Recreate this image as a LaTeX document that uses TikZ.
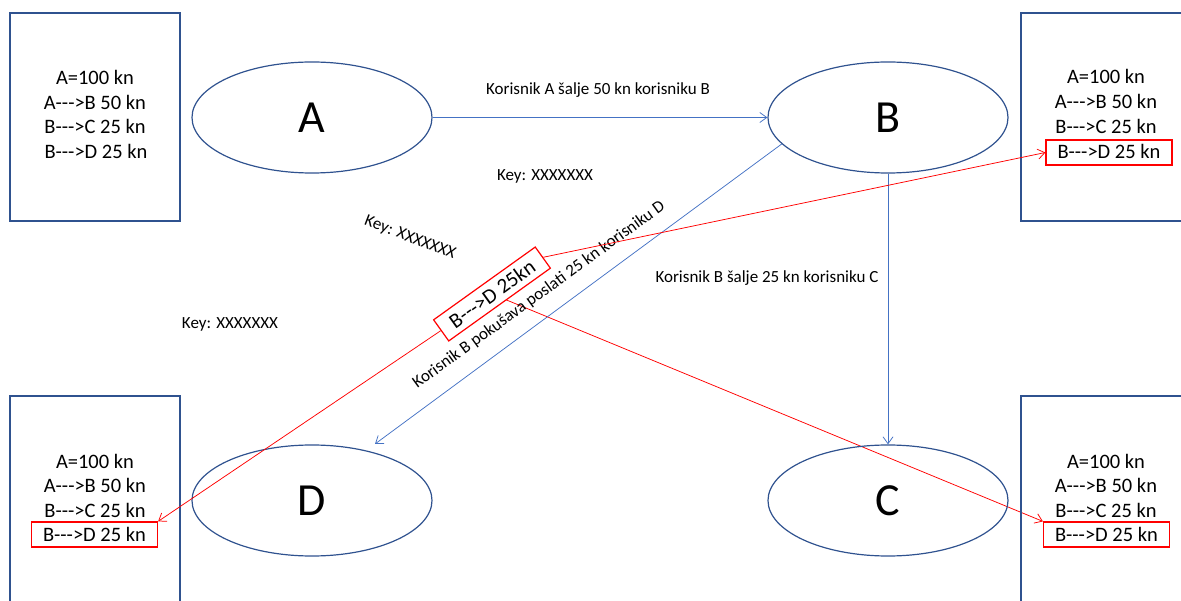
\documentclass[tikz,border=0pt]{standalone}
\usepackage{fontspec}
\setmainfont{Carlito}[Ligatures=TeXOff]
\usetikzlibrary{shapes.geometric,arrows.meta,calc}
\definecolor{boxblue}{HTML}{2F528F}
\definecolor{arrblue}{HTML}{4472C4}
\definecolor{myred}{HTML}{FF0000}
\pgfdeclarelayer{bg}
\pgfsetlayers{bg,main}
\begin{document}
\begin{tikzpicture}[x=1pt,y=-1pt,
  outer/.style={draw=boxblue, line width=1.2pt, rectangle, inner sep=0pt},
  ledger/.style={font=\fontsize{20.5}{24}\selectfont, anchor=base, inner sep=0pt},
  hl/.style={ledger, draw=myred, line width=1.2pt, minimum width=126pt, text height=13pt, text depth=0pt, inner ysep=6pt},
  user/.style={ellipse, draw=boxblue, line width=1.2pt, minimum width=240pt, minimum height=111pt, inner sep=0pt, font=\fontsize{46}{50}\selectfont},
  flow/.style={draw=arrblue, line width=0.75pt, -{Straight Barb[length=7pt,width=10pt]}},
  fake/.style={draw=myred, line width=0.75pt, -{Straight Barb[length=7pt,width=10pt]}},
  lbl/.style={font=\fontsize{17}{20}\selectfont, inner sep=0pt}]
\useasboundingbox (0,0) rectangle (1181,601);
\clip (0,0) rectangle (1181,601);
% outer ledger boxes
\node[outer, minimum width=170pt, minimum height=208pt] (TL) at (95,117) {};
\node[outer, minimum width=170pt, minimum height=208pt] (TR) at (1106,117) {};
\node[outer, minimum width=170pt, minimum height=208pt] (BL) at (95,500) {};
\node[outer, minimum width=170pt, minimum height=208pt] (BR) at (1106,500) {};
% top-left ledger
\node[ledger] (tl1) at (95,85) {A=100 kn};
\node[ledger] (tl2) at (95,110) {A--->B 50 kn};
\node[ledger] (tl3) at (95,134) {B--->C 25 kn};
\node[ledger] (tl4) at (96,159) {B--->D 25 kn};
% top-right ledger
\node[ledger] (tr1) at (1106,84) {A=100 kn};
\node[ledger] (tr2) at (1106,109) {A--->B 50 kn};
\node[ledger] (tr3) at (1106,133.5) {B--->C 25 kn};
\node[hl] (tr4) at (1109,159) {B--->D 25 kn};
% bottom-left ledger
\node[ledger] (bl1) at (95,468) {A=100 kn};
\node[ledger] (bl2) at (95,492.5) {A--->B 50 kn};
\node[ledger] (bl3) at (95,517) {B--->C 25 kn};
\node[hl] (bl4) at (94.5,541) {B--->D 25 kn};
% bottom-right ledger
\node[ledger] (br1) at (1106,468) {A=100 kn};
\node[ledger] (br2) at (1106,492.5) {A--->B 50 kn};
\node[ledger] (br3) at (1106,517) {B--->C 25 kn};
\node[hl] (br4) at (1106.5,541) {B--->D 25 kn};
% users
\node[user] (A) at (312,117.5) {A};
\node[user] (B) at (888,117.5) {B};
\node[user] (D) at (312,500.5) {D};
\node[user] (C) at (888,500.5) {C};
% labels
\node[lbl, anchor=base] (lab1) at (598,95) {Korisnik A šalje 50 kn korisniku B};
\node[lbl, anchor=base] (lab2) at (767,283) {Korisnik B šalje 25 kn korisniku C};
\node[lbl, anchor=base] (k1) at (545,181) {Key: XXXXXXX};
\node[lbl, anchor=base] (k2) at (230,329) {Key: XXXXXXX};
\node[lbl, rotate=-21] (k3) at (410,238) {Key: XXXXXXX};
\node[lbl, rotate=36] (lab3) at (539,295) {Korisnik B pokušava poslati 25 kn korisniku D};
% forged message
\node[draw=myred, fill=white, line width=1.2pt, rotate=35.6, minimum width=125pt, minimum height=26pt, inner sep=0pt, font=\fontsize{21}{24}\selectfont] (m) at (492,294) {B--->D 25kn};
\coordinate (dEnd) at (375,444);
% connectors
\draw[flow] (A.east) -- (B.west);
\draw[flow] (B.south) -- (C.north);
\draw[flow] (B.194) -- (dEnd);
\draw[fake] (m.east) -- (tr4.west);
\draw[fake] (m.west) -- (bl4.north east);
\begin{pgfonlayer}{bg}
\draw[fake] (m.center) -- (br4.north west);
\end{pgfonlayer}
\end{tikzpicture}
\end{document}
